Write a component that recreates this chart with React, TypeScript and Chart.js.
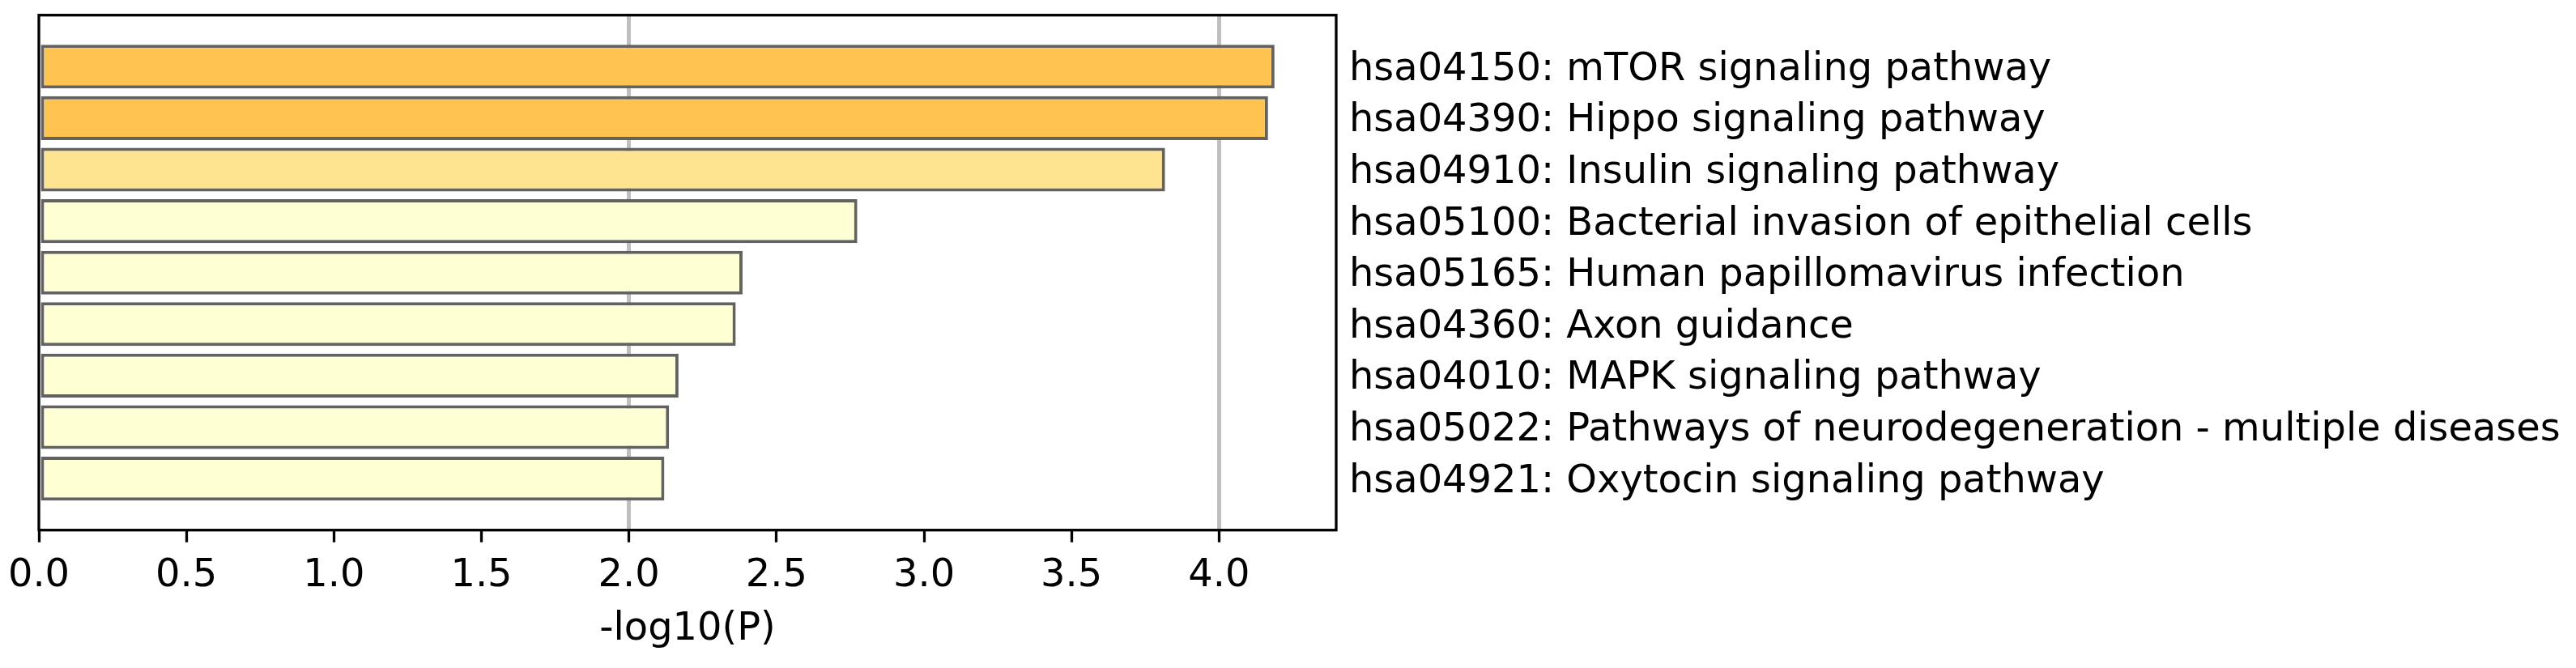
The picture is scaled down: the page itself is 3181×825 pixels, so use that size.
import React, { useEffect, useRef } from "react";
import { Chart, registerables } from "chart.js";

Chart.register(...registerables);

const categories = [
  "hsa04150: mTOR signaling pathway",
  "hsa04390: Hippo signaling pathway",
  "hsa04910: Insulin signaling pathway",
  "hsa05100: Bacterial invasion of epithelial cells",
  "hsa05165: Human papillomavirus infection",
  "hsa04360: Axon guidance",
  "hsa04010: MAPK signaling pathway",
  "hsa05022: Pathways of neurodegeneration - multiple diseases",
  "hsa04921: Oxytocin signaling pathway",
];
const values = [4.188, 4.166, 3.817, 2.774, 2.385, 2.362, 2.168, 2.136, 2.12];
const barColors = [
  "#fec44f",
  "#fec44f",
  "#fee391",
  "#ffffd4",
  "#ffffd4",
  "#ffffd4",
  "#ffffd4",
  "#ffffd4",
  "#ffffd4",
];
const xTickStep = 0.5;
const xMax = 4.397;
const highlightLines = [2, 4];
const xTitle = "-log10(P)";

const FONT = "'DejaVu Sans', 'Liberation Sans', sans-serif";
const FS = 47.9;

const framePlugin = {
  id: "frame",
  afterDatasetsDraw(chart: any) {
    const { ctx, chartArea } = chart;
    ctx.save();
    ctx.strokeStyle = "#000";
    ctx.lineWidth = 3.3;
    ctx.strokeRect(
      chartArea.left,
      chartArea.top,
      chartArea.right - chartArea.left,
      chartArea.bottom - chartArea.top
    );
    ctx.restore();
  },
};

export default function App() {
  const ref = useRef<HTMLCanvasElement | null>(null);
  useEffect(() => {
    if (!ref.current) return;
    const chart = new Chart(ref.current, {
      type: "bar",
      data: {
        datasets: [
          {
            data: values.map((v, i) => ({ x: v, y: i })),
            backgroundColor: barColors,
            borderColor: "#626262",
            borderWidth: 4,
            borderSkipped: false,
            categoryPercentage: 1,
            barPercentage: 0.85,
          } as any,
        ],
      },
      options: {
        indexAxis: "y",
        animation: false,
        responsive: false,
        devicePixelRatio: 1,
        layout: { padding: { left: 48, top: 18.7, right: 0, bottom: 0 } },
        plugins: { legend: { display: false }, tooltip: { enabled: false } },
        scales: {
          x: {
            type: "linear",
            position: "bottom",
            min: 0,
            max: xMax,
            offset: false,
            afterFit(scale: any) {
              scale.height = 170.3;
              scale.paddingLeft = 0;
              scale.paddingRight = 0;
            },
            ticks: {
              stepSize: xTickStep,
              includeBounds: false,
              padding: 13,
              color: "#000",
              font: { family: FONT, size: FS },
              callback: (v: any) => Number(v).toFixed(1),
            },
            grid: {
              display: true,
              offset: false,
              drawOnChartArea: true,
              drawTicks: true,
              tickLength: 15,
              tickWidth: 3.3,
              tickColor: "#000",
              color: (c: any) =>
                c.tick && highlightLines.includes(c.tick.value) ? "#bfbfbf" : "rgba(0,0,0,0)",
              lineWidth: 5,
            },
            border: { display: false },
            title: {
              display: true,
              text: xTitle,
              color: "#000",
              font: { family: FONT, size: FS },
              padding: { top: 0, bottom: 19 },
            },
          },
          y: {
            type: "linear",
            position: "right",
            min: -1,
            max: 9,
            offset: false,
            reverse: true,
            afterBuildTicks(scale: any) {
              scale.ticks = categories.map((_, i) => ({ value: i }));
            },
            afterFit(scale: any) {
              scale.width = 1531;
              scale.paddingTop = 0;
              scale.paddingBottom = 0;
            },
            ticks: {
              padding: 16,
              labelOffset: 4,
              color: "#000",
              font: { family: FONT, size: FS },
              autoSkip: false,
              callback: (v: any) => categories[Math.round(Number(v))] ?? "",
            },
            grid: { display: false, drawTicks: false, offset: false },
            border: { display: false },
          },
        },
      },
      plugins: [framePlugin],
    } as any);
    return () => chart.destroy();
  }, []);
  return (
    <div style={{ position: "fixed", left: 0, top: 0, width: 3181, height: 825, background: "#fff" }}>
      <canvas ref={ref} width={3181} height={825} style={{ width: 3181, height: 825, display: "block" }} />
    </div>
  );
}
